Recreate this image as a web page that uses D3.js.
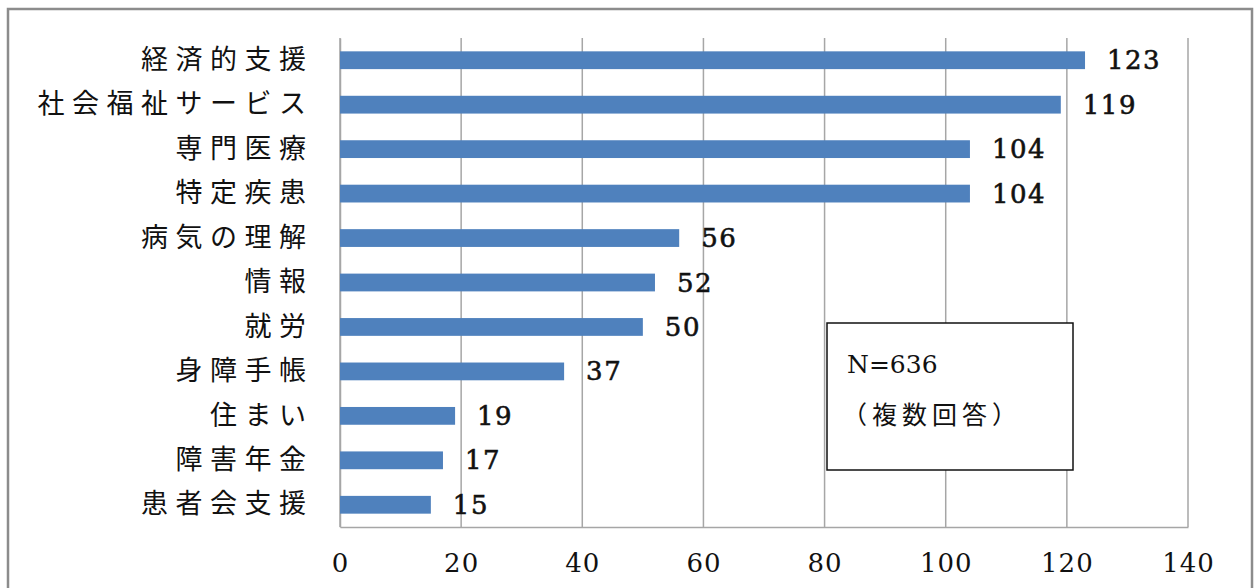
<!DOCTYPE html>
<html>
<head>
<meta charset="utf-8">
<script src="https://cdn.jsdelivr.net/npm/d3@7"></script>
<style>
  body { margin: 0; background: #fff; }
  svg { display: block; }
</style>
</head>
<body>
<div id="chart"></div>
<script>
const categories = ["経済的支援", "社会福祉サービス", "専門医療", "特定疾患", "病気の理解", "情報", "就労", "身障手帳", "住まい", "障害年金", "患者会支援"]
const counts = [123, 119, 104, 104, 56, 52, 50, 37, 19, 17, 15]
const ticks = [0, 20, 40, 60, 80, 100, 120, 140]
const noteLines = ["N=636", "（複数回答）"]

const width = 1256
const height = 588
const margin = {top: 38, right: 68, bottom: 61, left: 340}
const serif = "'DejaVu Serif', 'Liberation Serif', serif"
const jp = "'Noto Sans CJK JP', sans-serif"

const svg = d3.select("#chart").append("svg")
    .attr("width", width)
    .attr("height", height)

// outer frame
svg.append("rect")
    .attr("x", 8).attr("y", 9)
    .attr("width", 1244).attr("height", 600)
    .attr("fill", "none")
    .attr("stroke", "#8c8c8c")
    .attr("stroke-width", 2.5)

const x = d3.scaleLinear()
    .domain([0, 140])
    .range([margin.left, width - margin.right])

const y = d3.scaleBand()
    .domain(categories)
    .range([margin.top, height - margin.bottom])
    .paddingInner(0.6)
    .paddingOuter(0.3)

const plotBottom = height - margin.bottom

// vertical gridlines
svg.append("g")
    .selectAll("line")
    .data(ticks)
    .enter()
    .append("line")
    .attr("x1", d => x(d)).attr("x2", d => x(d))
    .attr("y1", margin.top).attr("y2", plotBottom)
    .attr("stroke", "#a6a6a6")
    .attr("stroke-width", 1.5)

// bottom axis
const xAxis = svg.append("g")
    .attr("transform", "translate(0," + plotBottom + ")")
    .call(d3.axisBottom(x).tickValues(ticks).tickSize(0).tickPadding(27))
xAxis.select(".domain").attr("stroke", "#a6a6a6").attr("stroke-width", 1.5)
xAxis.selectAll("text")
    .attr("font-family", serif)
    .attr("font-size", 26)
    .attr("letter-spacing", 1)
    .attr("fill", "#111")

// left axis
const yAxis = svg.append("g")
    .attr("transform", "translate(" + margin.left + ",0)")
    .call(d3.axisLeft(y).tickSize(0).tickPadding(26.5))
yAxis.select(".domain").attr("stroke", "#a6a6a6").attr("stroke-width", 1.5)
yAxis.selectAll("text")
    .attr("font-family", jp)
    .attr("font-size", 27)
    .attr("letter-spacing", 7.5)
    .attr("fill", "#111")

// bars
svg.append("g")
    .selectAll("rect")
    .data(counts)
    .enter()
    .append("rect")
    .attr("x", x(0))
    .attr("y", (d, i) => y(categories[i]))
    .attr("width", d => x(d) - x(0))
    .attr("height", y.bandwidth())
    .attr("fill", "#4f81bd")

// value labels
svg.append("g")
    .selectAll("text")
    .data(counts)
    .enter()
    .append("text")
    .attr("x", d => x(d) + 22)
    .attr("y", (d, i) => y(categories[i]) + y.bandwidth() / 2 + 2)
    .attr("dominant-baseline", "middle")
    .attr("font-family", serif)
    .attr("font-size", 26)
    .attr("letter-spacing", 1.5)
    .attr("fill", "#111")
    .attr("stroke", "#111")
    .attr("stroke-width", 0.6)
    .text(d => d)

// note box
svg.append("rect")
    .attr("x", 827).attr("y", 323)
    .attr("width", 246).attr("height", 147)
    .attr("fill", "#fff")
    .attr("stroke", "#111")
    .attr("stroke-width", 1.5)

svg.append("text")
    .attr("x", 847).attr("y", 373)
    .attr("font-family", serif)
    .attr("font-size", 25)
    .attr("fill", "#111")
    .text(noteLines[0])

svg.append("text")
    .attr("x", 842).attr("y", 424)
    .attr("font-family", jp)
    .attr("font-size", 25)
    .attr("letter-spacing", 5)
    .attr("fill", "#111")
    .text(noteLines[1])
</script>
</body>
</html>
